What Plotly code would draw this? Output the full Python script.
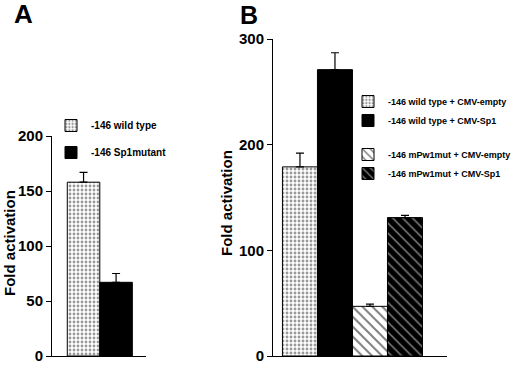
import plotly.graph_objects as go

# ---- data ----
a_names = ["-146 wild type", "-146 Sp1mutant"]
a_values = [158, 67]
a_errors = [9, 8]

b_names = ["-146 wild type + CMV-empty", "-146 wild type + CMV-Sp1",
           "-146 mPw1mut + CMV-empty", "-146 mPw1mut + CMV-Sp1"]
b_values = [179, 271, 47, 131]
b_errors = [13, 16, 2, 2]

y_title = "Fold activation"
a_ticks = [0, 50, 100, 150, 200]
b_ticks = [0, 100, 200, 300]

W, H = 520, 370
FONT = "Liberation Sans, Arial, Helvetica, sans-serif"

patterns = {
    "stipple": dict(shape=".", fgcolor="#333333", bgcolor="white", size=4, solidity=0.4),
    "solid": dict(shape=""),
    "hatch_white": dict(shape="\\", fgcolor="black", bgcolor="white", size=7, solidity=0.28),
    "hatch_black": dict(shape="\\", fgcolor="white", bgcolor="black", size=7, solidity=0.22),
}

a_styles = [("white", patterns["stipple"]), ("black", patterns["solid"])]
b_styles = [("white", patterns["stipple"]), ("black", patterns["solid"]),
            ("white", patterns["hatch_white"]), ("black", patterns["hatch_black"])]
b_groups = ["wt", "wt", "mut", "mut"]

fig = go.Figure()

for i, (name, v, e) in enumerate(zip(a_names, a_values, a_errors)):
    color, pat = a_styles[i]
    fig.add_trace(go.Bar(
        x=[i], y=[v], name=name, width=1.0,
        marker=dict(color=color, pattern=pat, line=dict(color="black", width=1)),
        error_y=dict(type="data", array=[e], arrayminus=[0], symmetric=False,
                     color="black", thickness=1.2, width=4),
        xaxis="x", yaxis="y", legend="legend", legendgroup="a%d" % i,
    ))

for i, (name, v, e) in enumerate(zip(b_names, b_values, b_errors)):
    color, pat = b_styles[i]
    fig.add_trace(go.Bar(
        x=[i], y=[v], name=name, width=1.0,
        marker=dict(color=color, pattern=pat, line=dict(color="black", width=1)),
        error_y=dict(type="data", array=[e], arrayminus=[0], symmetric=False,
                     color="black", thickness=1.2, width=4),
        xaxis="x2", yaxis="y2", legend="legend2", legendgroup=b_groups[i],
    ))

ybot = (H - 356) / H
yaxis_common = dict(showline=True, linecolor="black", linewidth=1, ticks="outside",
                    ticklen=5, tickcolor="black", tickwidth=1, showgrid=False,
                    zeroline=False, tickfont=dict(family=FONT, size=15, color="black", weight="bold"),
                    fixedrange=True, automargin=False)
xaxis_common = dict(showline=True, linecolor="black", linewidth=1, showticklabels=False,
                    ticks="", showgrid=False, zeroline=False, fixedrange=True, automargin=False)

fig.update_layout(
    width=W, height=H,
    margin=dict(l=0, r=0, t=0, b=0, autoexpand=False),
    paper_bgcolor="white", plot_bgcolor="white",
    barmode="overlay",
    font=dict(family=FONT, color="black"),
    xaxis=dict(domain=[52 / W, 146 / W], range=[-0.97, 1.92], anchor="y", **xaxis_common),
    yaxis=dict(domain=[ybot, (H - 136) / H], range=[0, 200], tickvals=a_ticks,
               anchor="x", **yaxis_common),
    xaxis2=dict(domain=[273 / W, 447 / W], range=[-0.77, 4.2], anchor="y2", **xaxis_common),
    yaxis2=dict(domain=[ybot, (H - 39) / H], range=[0, 300], tickvals=b_ticks,
                anchor="x2", **yaxis_common),
    legend=dict(x=51 / W, y=(H - 111) / H, xanchor="left", yanchor="top",
                bgcolor="rgba(0,0,0,0)", borderwidth=0, tracegroupgap=8,
                font=dict(family=FONT, size=10, color="black", weight="bold")),
    legend2=dict(x=348 / W, y=(H - 87) / H, xanchor="left", yanchor="top",
                 bgcolor="rgba(0,0,0,0)", borderwidth=0, tracegroupgap=15,
                 font=dict(family=FONT, size=9, color="black", weight="bold")),
    annotations=[
        dict(text="A", x=23 / W, y=(H - 14) / H, xref="paper", yref="paper",
             xanchor="center", yanchor="middle",
             showarrow=False, font=dict(family=FONT, size=26, weight="bold")),
        dict(text="B", x=249 / W, y=(H - 15) / H, xref="paper", yref="paper",
             xanchor="center", yanchor="middle",
             showarrow=False, font=dict(family=FONT, size=25, weight="bold")),
        dict(text=y_title, x=10 / W, y=(H - 243) / H, xref="paper", yref="paper",
             xanchor="center", yanchor="middle",
             showarrow=False, textangle=-90, font=dict(family=FONT, size=15, weight="bold")),
        dict(text=y_title, x=227 / W, y=(H - 203) / H, xref="paper", yref="paper",
             xanchor="center", yanchor="middle",
             showarrow=False, textangle=-90, font=dict(family=FONT, size=15, weight="bold")),
    ],
)

fig.write_html(
    "out.html",
    config={"displayModeBar": False},
    post_script=(
        "document.documentElement.style.margin='0';"
        "document.body.style.margin='0';document.body.style.padding='0';"
        "document.body.style.overflow='hidden';"
        "document.documentElement.style.overflow='hidden';"
    ),
)
